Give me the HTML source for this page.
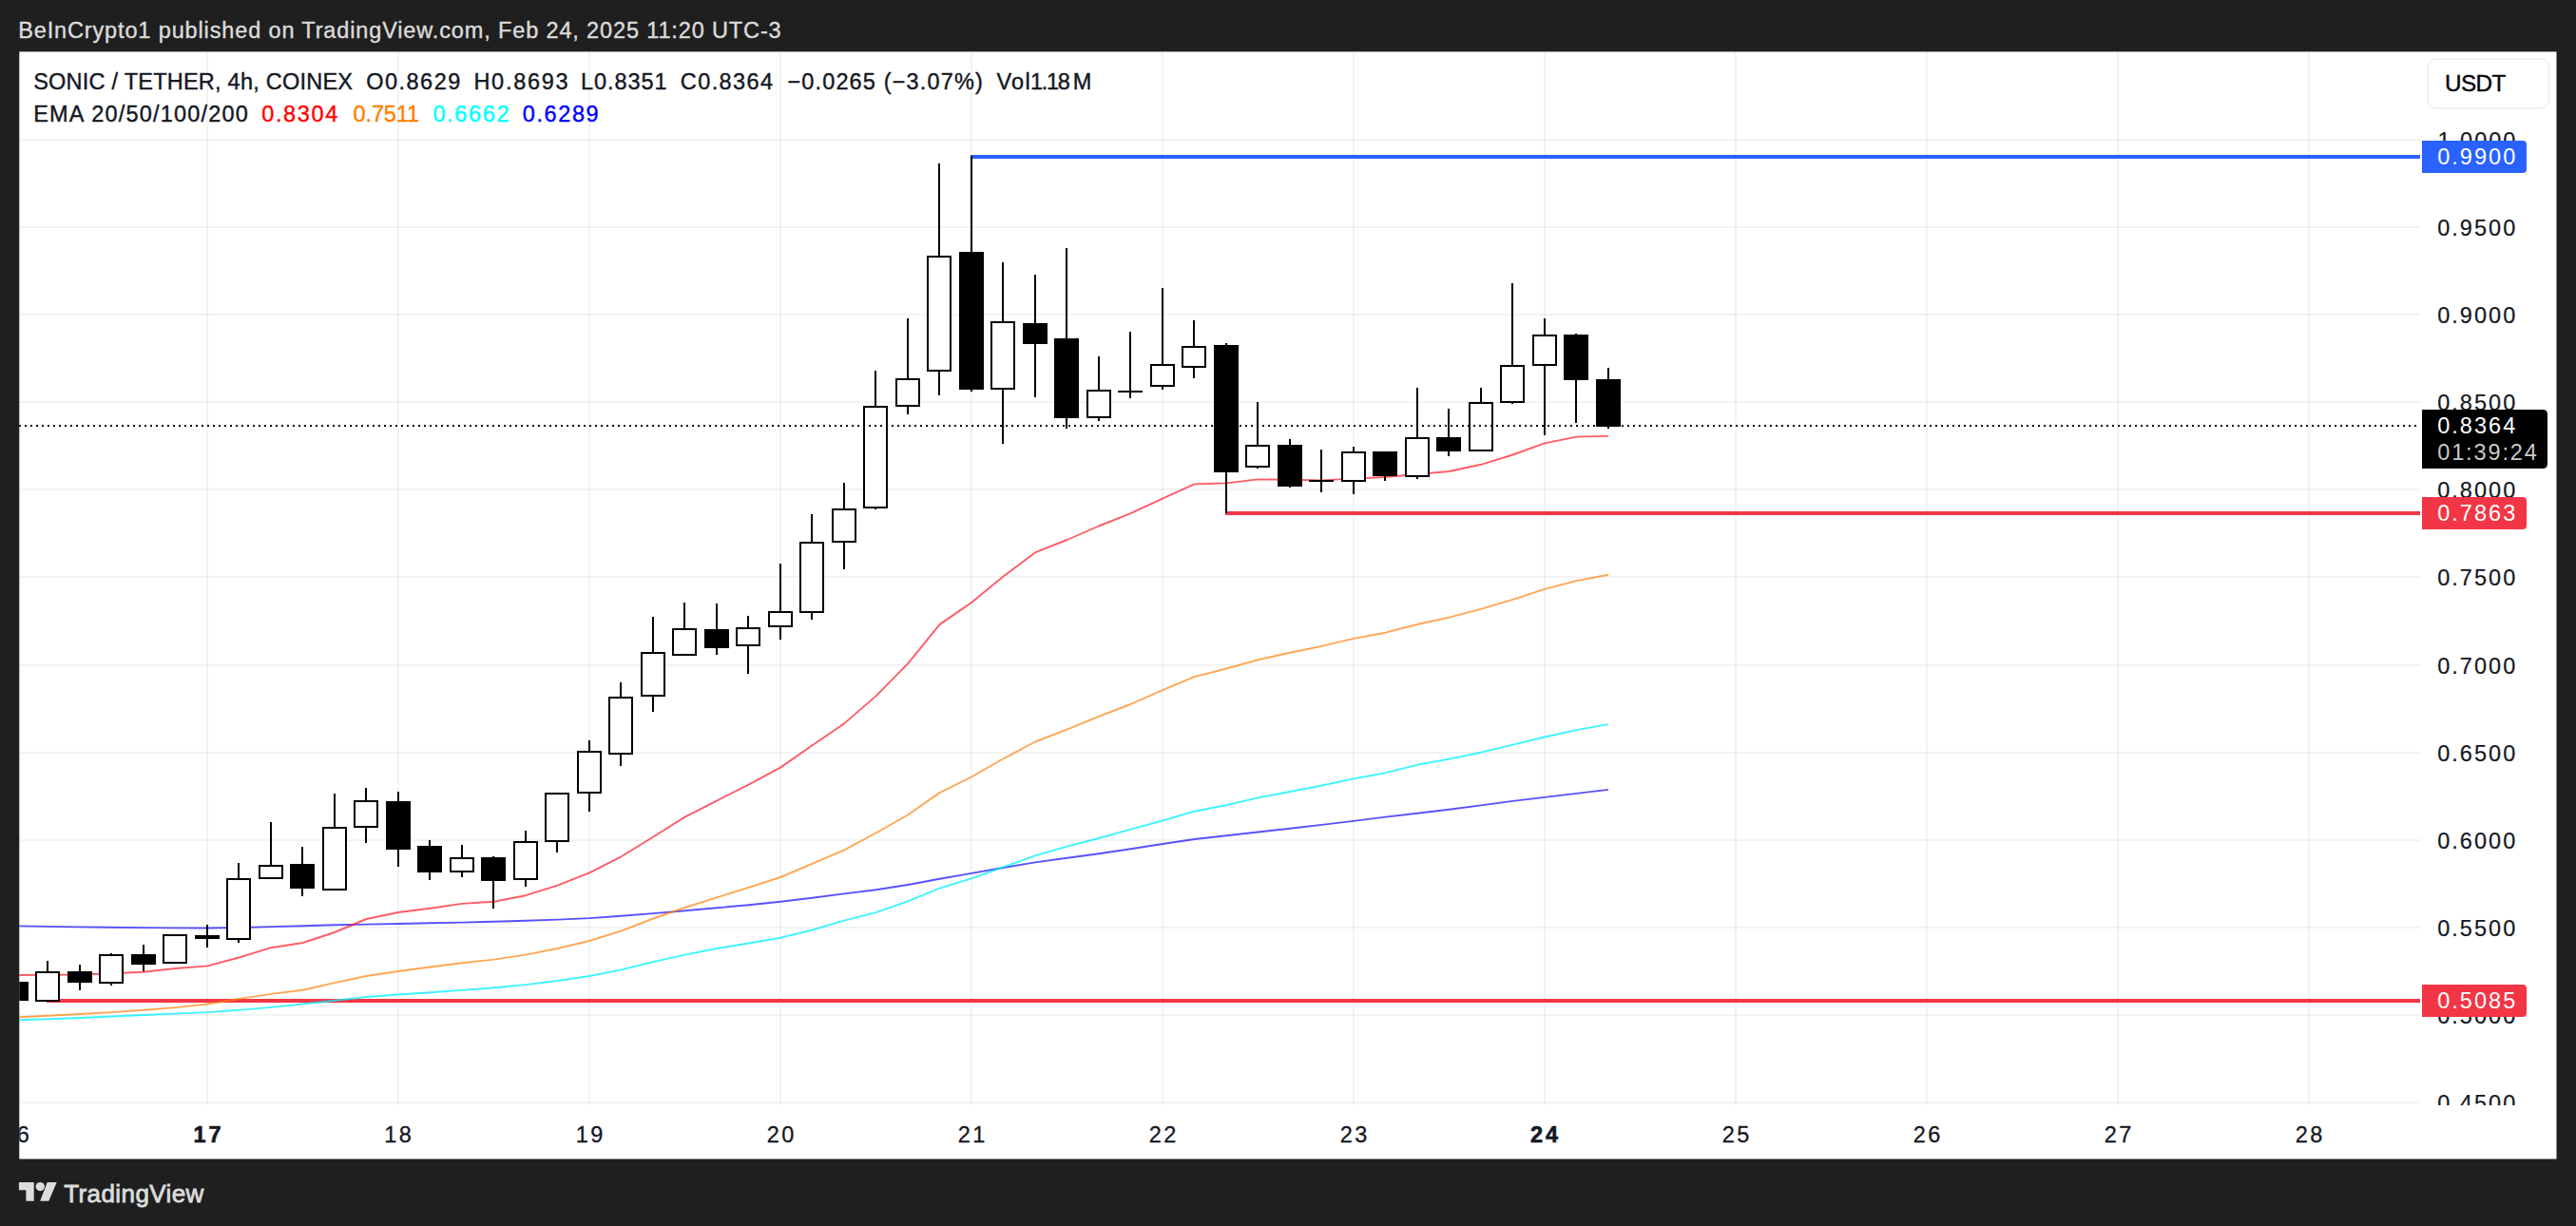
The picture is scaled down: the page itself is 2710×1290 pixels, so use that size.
<!DOCTYPE html>
<html lang="en"><head><meta charset="utf-8"><title>SONIC / TETHER chart</title>
<style>
html,body{margin:0;padding:0;background:#1f1f1f;}
body{width:2710px;height:1290px;position:relative;overflow:hidden;font-family:'Liberation Sans', Arial, Helvetica, sans-serif;}
svg text{white-space:pre;}
</style></head><body>
<svg width="2710" height="1290" viewBox="0 0 2710 1290" style="position:absolute;left:0;top:0">
<rect x="20.3" y="54.4" width="2669.2" height="1165.1" fill="#fff"/>
<g fill="rgba(60,80,70,0.068)" shape-rendering="crispEdges">
<rect x="217" y="55" width="2" height="1108"/>
<rect x="418" y="55" width="2" height="1108"/>
<rect x="619" y="55" width="2" height="1108"/>
<rect x="820" y="55" width="2" height="1108"/>
<rect x="1021" y="55" width="2" height="1108"/>
<rect x="1222" y="55" width="2" height="1108"/>
<rect x="1423" y="55" width="2" height="1108"/>
<rect x="1624" y="55" width="2" height="1108"/>
<rect x="1825" y="55" width="2" height="1108"/>
<rect x="2026" y="55" width="2" height="1108"/>
<rect x="2227" y="55" width="2" height="1108"/>
<rect x="2428" y="55" width="2" height="1108"/>
<rect x="21" y="146" width="2525" height="2"/>
<rect x="21" y="238" width="2525" height="2"/>
<rect x="21" y="330" width="2525" height="2"/>
<rect x="21" y="422" width="2525" height="2"/>
<rect x="21" y="514" width="2525" height="2"/>
<rect x="21" y="606" width="2525" height="2"/>
<rect x="21" y="699" width="2525" height="2"/>
<rect x="21" y="791" width="2525" height="2"/>
<rect x="21" y="883" width="2525" height="2"/>
<rect x="21" y="975" width="2525" height="2"/>
<rect x="21" y="1067" width="2525" height="2"/>
<rect x="21" y="1159" width="2525" height="2"/>
</g>
<clipPath id="pc"><rect x="20.3" y="54.4" width="2525.7" height="1108.6"/></clipPath>
<g clip-path="url(#pc)">
<g shape-rendering="crispEdges">
<rect x="49" y="1051" width="2497" height="4" fill="#f23645"/>
<rect x="1289" y="538" width="1257" height="4" fill="#f23645"/>
<rect x="1021" y="163" width="1525" height="4" fill="#2962ff"/>
</g>
<polyline points="20.0,974.4 50.5,974.9 84.0,975.4 117.5,975.8 151.0,976.1 184.5,976.4 218.0,976.5 251.5,976.0 285.0,975.1 318.5,974.2 352.0,973.3 385.5,972.6 419.0,972.0 452.5,971.3 486.0,970.6 519.5,969.8 553.0,968.8 586.5,967.6 620.0,966.1 653.5,963.8 687.0,961.1 720.5,958.3 754.0,955.3 787.5,952.2 821.0,948.7 854.5,944.7 888.0,940.4 921.5,936.3 955.0,931.0 988.5,924.8 1022.0,918.9 1055.5,913.0 1089.0,907.4 1122.5,902.8 1156.0,898.3 1189.5,893.2 1223.0,888.0 1256.5,883.0 1290.0,879.3 1323.5,875.5 1357.0,871.7 1390.5,867.9 1424.0,863.9 1457.5,859.6 1491.0,855.7 1524.5,851.7 1558.0,847.4 1591.5,842.9 1625.0,838.9 1658.5,834.9 1692.0,830.9" fill="none" stroke="rgba(30,20,255,0.74)" stroke-width="1.9" stroke-linejoin="round" stroke-linecap="butt"/>
<polyline points="20.0,1073.2 50.5,1072.2 84.0,1071.0 117.5,1069.5 151.0,1068.0 184.5,1066.6 218.0,1065.1 251.5,1062.8 285.0,1059.9 318.5,1056.5 352.0,1052.7 385.5,1049.0 419.0,1046.5 452.5,1044.2 486.0,1041.9 519.5,1039.3 553.0,1036.1 586.5,1032.0 620.0,1027.0 653.5,1020.4 687.0,1012.2 720.5,1004.6 754.0,998.0 787.5,992.5 821.0,986.7 854.5,978.5 888.0,968.7 921.5,960.2 955.0,948.3 988.5,934.6 1022.0,924.3 1055.5,912.4 1089.0,900.4 1122.5,890.7 1156.0,882.0 1189.5,872.6 1223.0,863.5 1256.5,853.7 1290.0,847.2 1323.5,839.4 1357.0,833.0 1390.5,826.5 1424.0,819.4 1457.5,813.2 1491.0,804.8 1524.5,798.6 1558.0,791.7 1591.5,783.7 1625.0,775.5 1658.5,768.1 1692.0,762.1" fill="none" stroke="rgba(0,240,255,0.76)" stroke-width="1.9" stroke-linejoin="round" stroke-linecap="butt"/>
<polyline points="20.0,1070.2 50.5,1068.8 84.0,1067.0 117.5,1065.1 151.0,1062.8 184.5,1060.1 218.0,1056.5 251.5,1051.0 285.0,1045.9 318.5,1041.8 352.0,1034.1 385.5,1027.0 419.0,1022.0 452.5,1017.5 486.0,1013.3 519.5,1009.6 553.0,1004.6 586.5,998.0 620.0,990.0 653.5,979.6 687.0,966.5 720.5,955.0 754.0,944.3 787.5,933.9 821.0,923.0 854.5,908.9 888.0,894.3 921.5,876.5 955.0,857.5 988.5,834.1 1022.0,817.5 1055.5,798.3 1089.0,780.5 1122.5,767.6 1156.0,753.9 1189.5,741.0 1223.0,726.1 1256.5,712.2 1290.0,703.5 1323.5,694.3 1357.0,686.8 1390.5,679.9 1424.0,671.9 1457.5,665.7 1491.0,657.0 1524.5,649.6 1558.0,640.9 1591.5,630.9 1625.0,619.8 1658.5,611.1 1692.0,604.8" fill="none" stroke="rgba(255,128,10,0.7)" stroke-width="1.9" stroke-linejoin="round" stroke-linecap="butt"/>
<polyline points="20.0,1026.0 50.5,1025.7 84.0,1025.5 117.5,1024.2 151.0,1022.7 184.5,1019.0 218.0,1016.4 251.5,1007.5 285.0,997.2 318.5,992.0 352.0,981.0 385.5,967.0 419.0,960.0 452.5,955.7 486.0,950.9 519.5,948.7 553.0,942.2 586.5,931.7 620.0,918.3 653.5,901.3 687.0,880.7 720.5,859.6 754.0,842.6 787.5,825.6 821.0,807.6 854.5,784.3 888.0,761.4 921.5,732.4 955.0,698.4 988.5,657.1 1022.0,634.0 1055.5,606.4 1089.0,581.4 1122.5,568.0 1156.0,553.5 1189.5,540.2 1223.0,524.7 1256.5,509.4 1290.0,508.4 1323.5,504.4 1357.0,504.7 1390.5,505.4 1424.0,503.6 1457.5,502.0 1491.0,499.0 1524.5,496.0 1558.0,488.8 1591.5,478.5 1625.0,466.4 1658.5,459.6 1692.0,458.9" fill="none" stroke="rgba(255,15,30,0.68)" stroke-width="1.9" stroke-linejoin="round" stroke-linecap="butt"/>
<g shape-rendering="crispEdges">
<rect x="4" y="1033" width="26" height="20" fill="#000"/>
<rect x="49" y="1011" width="2" height="12" fill="#000"/>
<rect x="38" y="1023" width="24" height="30" fill="#fff" stroke="#000" stroke-width="2"/>
<rect x="83" y="1015" width="2" height="8" fill="#000"/>
<rect x="83" y="1033" width="2" height="9" fill="#000"/>
<rect x="71" y="1022" width="26" height="12" fill="#000"/>
<rect x="116" y="1003" width="2" height="2" fill="#000"/>
<rect x="116" y="1034" width="2" height="3" fill="#000"/>
<rect x="105" y="1005" width="24" height="29" fill="#fff" stroke="#000" stroke-width="2"/>
<rect x="150" y="994" width="2" height="11" fill="#000"/>
<rect x="150" y="1014" width="2" height="8" fill="#000"/>
<rect x="138" y="1004" width="26" height="11" fill="#000"/>
<rect x="172" y="984" width="24" height="29" fill="#fff" stroke="#000" stroke-width="2"/>
<rect x="217" y="973" width="2" height="12" fill="#000"/>
<rect x="217" y="987" width="2" height="10" fill="#000"/>
<rect x="205" y="984" width="26" height="4" fill="#000"/>
<rect x="250" y="908" width="2" height="17" fill="#000"/>
<rect x="250" y="988" width="2" height="4" fill="#000"/>
<rect x="239" y="925" width="24" height="63" fill="#fff" stroke="#000" stroke-width="2"/>
<rect x="284" y="865" width="2" height="46" fill="#000"/>
<rect x="273" y="911" width="24" height="13" fill="#fff" stroke="#000" stroke-width="2"/>
<rect x="317" y="891" width="2" height="19" fill="#000"/>
<rect x="317" y="934" width="2" height="9" fill="#000"/>
<rect x="305" y="909" width="26" height="26" fill="#000"/>
<rect x="351" y="835" width="2" height="36" fill="#000"/>
<rect x="340" y="871" width="24" height="65" fill="#fff" stroke="#000" stroke-width="2"/>
<rect x="384" y="829" width="2" height="14" fill="#000"/>
<rect x="384" y="870" width="2" height="17" fill="#000"/>
<rect x="373" y="843" width="24" height="27" fill="#fff" stroke="#000" stroke-width="2"/>
<rect x="418" y="833" width="2" height="11" fill="#000"/>
<rect x="418" y="893" width="2" height="19" fill="#000"/>
<rect x="406" y="843" width="26" height="51" fill="#000"/>
<rect x="451" y="884" width="2" height="7" fill="#000"/>
<rect x="451" y="917" width="2" height="9" fill="#000"/>
<rect x="439" y="890" width="26" height="28" fill="#000"/>
<rect x="485" y="889" width="2" height="14" fill="#000"/>
<rect x="485" y="917" width="2" height="6" fill="#000"/>
<rect x="474" y="903" width="24" height="14" fill="#fff" stroke="#000" stroke-width="2"/>
<rect x="518" y="901" width="2" height="2" fill="#000"/>
<rect x="518" y="926" width="2" height="30" fill="#000"/>
<rect x="506" y="902" width="26" height="25" fill="#000"/>
<rect x="552" y="874" width="2" height="12" fill="#000"/>
<rect x="552" y="925" width="2" height="8" fill="#000"/>
<rect x="541" y="886" width="24" height="39" fill="#fff" stroke="#000" stroke-width="2"/>
<rect x="585" y="885" width="2" height="12" fill="#000"/>
<rect x="574" y="835" width="24" height="50" fill="#fff" stroke="#000" stroke-width="2"/>
<rect x="619" y="779" width="2" height="12" fill="#000"/>
<rect x="619" y="834" width="2" height="20" fill="#000"/>
<rect x="608" y="791" width="24" height="43" fill="#fff" stroke="#000" stroke-width="2"/>
<rect x="652" y="718" width="2" height="16" fill="#000"/>
<rect x="652" y="793" width="2" height="13" fill="#000"/>
<rect x="641" y="734" width="24" height="59" fill="#fff" stroke="#000" stroke-width="2"/>
<rect x="686" y="649" width="2" height="38" fill="#000"/>
<rect x="686" y="732" width="2" height="17" fill="#000"/>
<rect x="675" y="687" width="24" height="45" fill="#fff" stroke="#000" stroke-width="2"/>
<rect x="719" y="634" width="2" height="28" fill="#000"/>
<rect x="708" y="662" width="24" height="27" fill="#fff" stroke="#000" stroke-width="2"/>
<rect x="753" y="635" width="2" height="28" fill="#000"/>
<rect x="753" y="681" width="2" height="8" fill="#000"/>
<rect x="741" y="662" width="26" height="20" fill="#000"/>
<rect x="786" y="648" width="2" height="13" fill="#000"/>
<rect x="786" y="679" width="2" height="30" fill="#000"/>
<rect x="775" y="661" width="24" height="18" fill="#fff" stroke="#000" stroke-width="2"/>
<rect x="820" y="593" width="2" height="51" fill="#000"/>
<rect x="820" y="659" width="2" height="14" fill="#000"/>
<rect x="809" y="644" width="24" height="15" fill="#fff" stroke="#000" stroke-width="2"/>
<rect x="853" y="541" width="2" height="30" fill="#000"/>
<rect x="853" y="644" width="2" height="8" fill="#000"/>
<rect x="842" y="571" width="24" height="73" fill="#fff" stroke="#000" stroke-width="2"/>
<rect x="887" y="508" width="2" height="28" fill="#000"/>
<rect x="887" y="570" width="2" height="29" fill="#000"/>
<rect x="876" y="536" width="24" height="34" fill="#fff" stroke="#000" stroke-width="2"/>
<rect x="920" y="390" width="2" height="38" fill="#000"/>
<rect x="920" y="534" width="2" height="2" fill="#000"/>
<rect x="909" y="428" width="24" height="106" fill="#fff" stroke="#000" stroke-width="2"/>
<rect x="954" y="335" width="2" height="64" fill="#000"/>
<rect x="954" y="427" width="2" height="9" fill="#000"/>
<rect x="943" y="399" width="24" height="28" fill="#fff" stroke="#000" stroke-width="2"/>
<rect x="987" y="172" width="2" height="98" fill="#000"/>
<rect x="987" y="390" width="2" height="26" fill="#000"/>
<rect x="976" y="270" width="24" height="120" fill="#fff" stroke="#000" stroke-width="2"/>
<rect x="1021" y="164" width="2" height="102" fill="#000"/>
<rect x="1021" y="409" width="2" height="3" fill="#000"/>
<rect x="1009" y="265" width="26" height="145" fill="#000"/>
<rect x="1054" y="276" width="2" height="63" fill="#000"/>
<rect x="1054" y="409" width="2" height="58" fill="#000"/>
<rect x="1043" y="339" width="24" height="70" fill="#fff" stroke="#000" stroke-width="2"/>
<rect x="1088" y="289" width="2" height="52" fill="#000"/>
<rect x="1088" y="361" width="2" height="57" fill="#000"/>
<rect x="1076" y="340" width="26" height="22" fill="#000"/>
<rect x="1121" y="261" width="2" height="96" fill="#000"/>
<rect x="1121" y="439" width="2" height="12" fill="#000"/>
<rect x="1109" y="356" width="26" height="84" fill="#000"/>
<rect x="1155" y="375" width="2" height="36" fill="#000"/>
<rect x="1155" y="439" width="2" height="4" fill="#000"/>
<rect x="1144" y="411" width="24" height="28" fill="#fff" stroke="#000" stroke-width="2"/>
<rect x="1188" y="349" width="2" height="63" fill="#000"/>
<rect x="1188" y="412" width="2" height="7" fill="#000"/>
<rect x="1176" y="411" width="26" height="2" fill="#000"/>
<rect x="1222" y="303" width="2" height="81" fill="#000"/>
<rect x="1222" y="406" width="2" height="4" fill="#000"/>
<rect x="1211" y="384" width="24" height="22" fill="#fff" stroke="#000" stroke-width="2"/>
<rect x="1255" y="337" width="2" height="28" fill="#000"/>
<rect x="1255" y="386" width="2" height="12" fill="#000"/>
<rect x="1244" y="365" width="24" height="21" fill="#fff" stroke="#000" stroke-width="2"/>
<rect x="1289" y="361" width="2" height="3" fill="#000"/>
<rect x="1289" y="496" width="2" height="44" fill="#000"/>
<rect x="1277" y="363" width="26" height="134" fill="#000"/>
<rect x="1322" y="423" width="2" height="46" fill="#000"/>
<rect x="1322" y="491" width="2" height="2" fill="#000"/>
<rect x="1311" y="469" width="24" height="22" fill="#fff" stroke="#000" stroke-width="2"/>
<rect x="1356" y="462" width="2" height="7" fill="#000"/>
<rect x="1356" y="511" width="2" height="2" fill="#000"/>
<rect x="1344" y="468" width="26" height="44" fill="#000"/>
<rect x="1389" y="473" width="2" height="33" fill="#000"/>
<rect x="1389" y="506" width="2" height="12" fill="#000"/>
<rect x="1377" y="505" width="26" height="2" fill="#000"/>
<rect x="1423" y="470" width="2" height="6" fill="#000"/>
<rect x="1423" y="506" width="2" height="14" fill="#000"/>
<rect x="1412" y="476" width="24" height="30" fill="#fff" stroke="#000" stroke-width="2"/>
<rect x="1456" y="500" width="2" height="6" fill="#000"/>
<rect x="1444" y="475" width="26" height="26" fill="#000"/>
<rect x="1490" y="408" width="2" height="53" fill="#000"/>
<rect x="1490" y="501" width="2" height="3" fill="#000"/>
<rect x="1479" y="461" width="24" height="40" fill="#fff" stroke="#000" stroke-width="2"/>
<rect x="1523" y="430" width="2" height="31" fill="#000"/>
<rect x="1523" y="474" width="2" height="6" fill="#000"/>
<rect x="1511" y="460" width="26" height="15" fill="#000"/>
<rect x="1557" y="408" width="2" height="16" fill="#000"/>
<rect x="1546" y="424" width="24" height="50" fill="#fff" stroke="#000" stroke-width="2"/>
<rect x="1590" y="298" width="2" height="87" fill="#000"/>
<rect x="1590" y="423" width="2" height="2" fill="#000"/>
<rect x="1579" y="385" width="24" height="38" fill="#fff" stroke="#000" stroke-width="2"/>
<rect x="1624" y="335" width="2" height="18" fill="#000"/>
<rect x="1624" y="384" width="2" height="74" fill="#000"/>
<rect x="1613" y="353" width="24" height="31" fill="#fff" stroke="#000" stroke-width="2"/>
<rect x="1657" y="351" width="2" height="2" fill="#000"/>
<rect x="1657" y="399" width="2" height="46" fill="#000"/>
<rect x="1645" y="352" width="26" height="48" fill="#000"/>
<rect x="1691" y="387" width="2" height="13" fill="#000"/>
<rect x="1691" y="448" width="2" height="3" fill="#000"/>
<rect x="1679" y="399" width="26" height="50" fill="#000"/>
</g>
<line x1="20" y1="448" x2="2546" y2="448" stroke="#000" stroke-width="2" stroke-dasharray="2 4" shape-rendering="crispEdges"/>
</g>
<clipPath id="ax"><rect x="2546" y="54" width="144" height="1109"/></clipPath>
<clipPath id="tx"><rect x="20.3" y="1163" width="2526" height="57"/></clipPath>
<g font-family="'Liberation Sans', Arial, Helvetica, sans-serif" style="white-space:pre">
<g clip-path="url(#ax)"><text x="2564.60" y="155.7" font-size="23.5" fill="#131722" stroke="#131722" stroke-width="0.2" letter-spacing="1.959">1.0000</text></g>
<g clip-path="url(#ax)"><text x="2564.20" y="247.7" font-size="23.5" fill="#131722" stroke="#131722" stroke-width="0.2" letter-spacing="2.039">0.9500</text></g>
<g clip-path="url(#ax)"><text x="2564.20" y="339.7" font-size="23.5" fill="#131722" stroke="#131722" stroke-width="0.2" letter-spacing="2.039">0.9000</text></g>
<g clip-path="url(#ax)"><text x="2564.20" y="431.7" font-size="23.5" fill="#131722" stroke="#131722" stroke-width="0.2" letter-spacing="2.039">0.8500</text></g>
<g clip-path="url(#ax)"><text x="2564.20" y="523.7" font-size="23.5" fill="#131722" stroke="#131722" stroke-width="0.2" letter-spacing="2.039">0.8000</text></g>
<g clip-path="url(#ax)"><text x="2564.20" y="615.7" font-size="23.5" fill="#131722" stroke="#131722" stroke-width="0.2" letter-spacing="2.039">0.7500</text></g>
<g clip-path="url(#ax)"><text x="2564.20" y="708.7" font-size="23.5" fill="#131722" stroke="#131722" stroke-width="0.2" letter-spacing="2.039">0.7000</text></g>
<g clip-path="url(#ax)"><text x="2564.20" y="800.7" font-size="23.5" fill="#131722" stroke="#131722" stroke-width="0.2" letter-spacing="2.039">0.6500</text></g>
<g clip-path="url(#ax)"><text x="2564.20" y="892.7" font-size="23.5" fill="#131722" stroke="#131722" stroke-width="0.2" letter-spacing="2.039">0.6000</text></g>
<g clip-path="url(#ax)"><text x="2564.20" y="984.7" font-size="23.5" fill="#131722" stroke="#131722" stroke-width="0.2" letter-spacing="2.039">0.5500</text></g>
<g clip-path="url(#ax)"><text x="2564.20" y="1076.7" font-size="23.5" fill="#131722" stroke="#131722" stroke-width="0.2" letter-spacing="2.039">0.5000</text></g>
<g clip-path="url(#ax)"><text x="2564.20" y="1168.7" font-size="23.5" fill="#131722" stroke="#131722" stroke-width="0.2" letter-spacing="2.039">0.4500</text></g>
</g>
<path d="M2548,148 H2654 Q2658,148 2658,152 V178 Q2658,182 2654,182 H2548 Z" fill="#2962ff"/>
<path d="M2548,431 H2675 Q2680,431 2680,436 V488 Q2680,493 2675,493 H2548 Z" fill="#000"/>
<path d="M2548,523 H2654 Q2658,523 2658,527 V553 Q2658,557 2654,557 H2548 Z" fill="#f23645"/>
<path d="M2548,1036 H2654 Q2658,1036 2658,1040 V1066 Q2658,1070 2654,1070 H2548 Z" fill="#f23645"/>
<rect x="2554.4" y="62.1" width="127.1" height="51.8" rx="8.5" fill="#fff" stroke="#f0f1f3" stroke-width="2"/>
<g fill="#dcdcdc"><path d="M19.9,1243.9 H35.7 V1263.75 H27.4 V1252.2 H19.9 Z"/><circle cx="42.25" cy="1248.55" r="4.65"/><path d="M49.7,1243.9 H59.7 L51.3,1263.75 H42.2 Z"/></g>
<g font-family="'Liberation Sans', Arial, Helvetica, sans-serif" style="white-space:pre">
<g><text x="19.20" y="39.6" font-size="23.5" fill="#dbdbdb" stroke="#dbdbdb" stroke-width="0.4" letter-spacing="0.863">BeInCrypto1 published on TradingView.com, Feb 24, 2025 11:20 UTC-3</text></g>
<g><text x="35.20" y="94.1" font-size="23.5" fill="#131722" stroke="#131722" stroke-width="0.4" letter-spacing="0.236">SONIC / TETHER, 4h, COINEX</text></g>
<g><text x="385.20" y="94.1" font-size="23.5" fill="#131722" stroke="#131722" stroke-width="0.4" letter-spacing="1.486">O0.8629</text></g>
<g><text x="498.40" y="94.1" font-size="23.5" fill="#131722" stroke="#131722" stroke-width="0.4" letter-spacing="1.737">H0.8693</text></g>
<g><text x="611.00" y="94.1" font-size="23.5" fill="#131722" stroke="#131722" stroke-width="0.4" letter-spacing="0.921">L0.8351</text></g>
<g><text x="715.80" y="94.1" font-size="23.5" fill="#131722" stroke="#131722" stroke-width="0.4" letter-spacing="1.404">C0.8364</text></g>
<g><text x="828.40" y="94.1" font-size="23.5" fill="#131722" stroke="#131722" stroke-width="0.4" letter-spacing="1.153">−0.0265 (−3.07%)</text></g>
<g><text x="1048.40" y="94.1" font-size="23.5" fill="#131722" stroke="#131722" stroke-width="0.4" letter-spacing="1.276">Vol</text></g>
<g><text x="1084.00" y="94.1" font-size="23.5" fill="#131722" stroke="#131722" stroke-width="0.4" letter-spacing="-1.289">1.18</text></g>
<g><text x="1128.80" y="94.1" font-size="23.5" fill="#131722" stroke="#131722" stroke-width="0.4" letter-spacing="0.000">M</text></g>
<g><text x="35.20" y="128.3" font-size="23.5" fill="#131722" stroke="#131722" stroke-width="0.4" letter-spacing="1.196">EMA 20/50/100/200</text></g>
<g><text x="275.20" y="128.3" font-size="23.5" fill="#ff0000" stroke="#ff0000" stroke-width="0.4" letter-spacing="1.639">0.8304</text></g>
<g><text x="371.60" y="128.3" font-size="23.5" fill="#ff8000" stroke="#ff8000" stroke-width="0.4" letter-spacing="-0.133">0.7511</text></g>
<g><text x="455.40" y="128.3" font-size="23.5" fill="#00ffff" stroke="#00ffff" stroke-width="0.4" letter-spacing="1.639">0.6662</text></g>
<g><text x="549.80" y="128.3" font-size="23.5" fill="#0000ff" stroke="#0000ff" stroke-width="0.4" letter-spacing="1.599">0.6289</text></g>
<g><text x="2572.00" y="96.0" font-size="24.3" fill="#05060a" stroke="#05060a" stroke-width="0.4" letter-spacing="-0.633">USDT</text></g>
<g><text x="2564.20" y="172.8" font-size="23.5" fill="#fff" letter-spacing="2.039">0.9900</text></g>
<g><text x="2564.20" y="547.8" font-size="23.5" fill="#fff" letter-spacing="2.039">0.7863</text></g>
<g><text x="2564.20" y="1060.8" font-size="23.5" fill="#fff" letter-spacing="2.039">0.5085</text></g>
<g><text x="2564.20" y="456.2" font-size="23.5" fill="#fff" letter-spacing="2.039">0.8364</text></g>
<g><text x="2564.20" y="483.8" font-size="23.5" fill="#c9c9c9" letter-spacing="1.885">01:39:24</text></g>
<g clip-path="url(#tx)"><text x="2.22" y="1202.2" font-size="23.5" fill="#131722" stroke="#131722" stroke-width="0.3" letter-spacing="2.500">16</text></g>
<g clip-path="url(#tx)"><text x="203.57" y="1202.2" font-size="23.5" fill="#131722" font-weight="700" stroke="#131722" stroke-width="0.6" letter-spacing="2.800">17</text></g>
<g clip-path="url(#tx)"><text x="404.22" y="1202.2" font-size="23.5" fill="#131722" stroke="#131722" stroke-width="0.3" letter-spacing="2.500">18</text></g>
<g clip-path="url(#tx)"><text x="605.72" y="1202.2" font-size="23.5" fill="#131722" stroke="#131722" stroke-width="0.3" letter-spacing="2.500">19</text></g>
<g clip-path="url(#tx)"><text x="806.72" y="1202.2" font-size="23.5" fill="#131722" stroke="#131722" stroke-width="0.3" letter-spacing="2.500">20</text></g>
<g clip-path="url(#tx)"><text x="1007.72" y="1202.2" font-size="23.5" fill="#131722" stroke="#131722" stroke-width="0.3" letter-spacing="2.500">21</text></g>
<g clip-path="url(#tx)"><text x="1208.72" y="1202.2" font-size="23.5" fill="#131722" stroke="#131722" stroke-width="0.3" letter-spacing="2.500">22</text></g>
<g clip-path="url(#tx)"><text x="1409.72" y="1202.2" font-size="23.5" fill="#131722" stroke="#131722" stroke-width="0.3" letter-spacing="2.500">23</text></g>
<g clip-path="url(#tx)"><text x="1610.07" y="1202.2" font-size="23.5" fill="#131722" font-weight="700" stroke="#131722" stroke-width="0.6" letter-spacing="2.800">24</text></g>
<g clip-path="url(#tx)"><text x="1811.72" y="1202.2" font-size="23.5" fill="#131722" stroke="#131722" stroke-width="0.3" letter-spacing="2.500">25</text></g>
<g clip-path="url(#tx)"><text x="2012.72" y="1202.2" font-size="23.5" fill="#131722" stroke="#131722" stroke-width="0.3" letter-spacing="2.500">26</text></g>
<g clip-path="url(#tx)"><text x="2213.72" y="1202.2" font-size="23.5" fill="#131722" stroke="#131722" stroke-width="0.3" letter-spacing="2.500">27</text></g>
<g clip-path="url(#tx)"><text x="2414.72" y="1202.2" font-size="23.5" fill="#131722" stroke="#131722" stroke-width="0.3" letter-spacing="2.500">28</text></g>
<g><text x="67.20" y="1264.5" font-size="26" fill="#dcdcdc" stroke="#dcdcdc" stroke-width="0.8" letter-spacing="0.410">TradingView</text></g>
</g>
</svg>
</body></html>
